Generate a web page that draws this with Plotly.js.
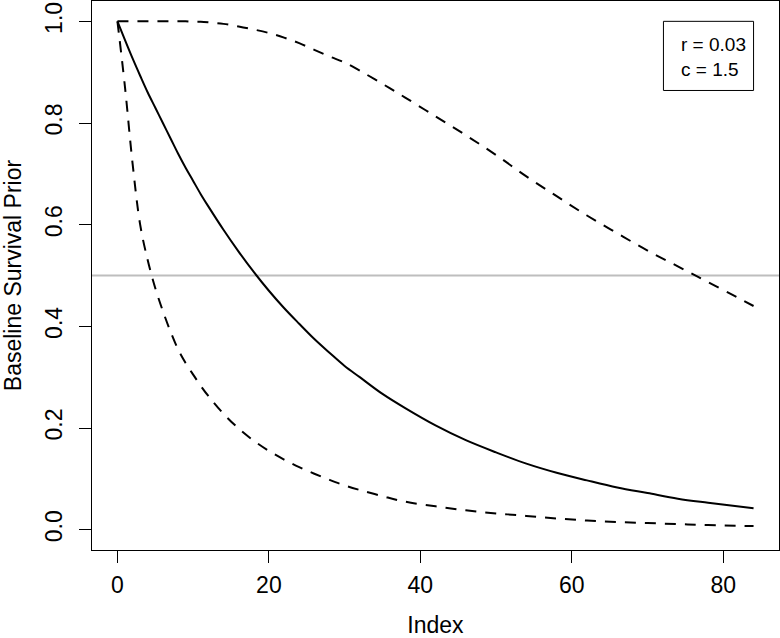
<!DOCTYPE html>
<html>
<head>
<meta charset="utf-8">
<script src="https://cdn.plot.ly/plotly-3.0.1.min.js"></script>
<style>
  body { margin: 0; background: #fff; }
  #plot { width: 780px; height: 638px; }
</style>
</head>
<body>
<div id="plot"></div>
<script>
// index values
var idx = [0, 1, 2, 3, 4, 5, 6, 7, 8, 9, 10, 11, 12, 14, 16, 18, 20, 22, 24, 26, 28, 30,
  32, 35, 38, 42, 46, 50, 54, 58, 62, 66, 70, 74, 78, 84];

// solid curve (middle)
var priorMid = [1.0, 0.963, 0.927, 0.893, 0.86, 0.83, 0.80, 0.77, 0.74, 0.712, 0.686, 0.66, 0.636, 0.59,
  0.547, 0.507, 0.47, 0.436, 0.405, 0.375, 0.348, 0.322, 0.30, 0.267, 0.239, 0.205,
  0.176, 0.152, 0.130, 0.112, 0.097, 0.083, 0.072, 0.061, 0.053, 0.042];

// dashed curve, lower
var priorLow = [1.0, 0.87, 0.72, 0.60, 0.53, 0.475, 0.43, 0.39, 0.355, 0.328, 0.305, 0.283, 0.263, 0.228,
  0.199, 0.175, 0.155, 0.138, 0.123, 0.110, 0.098, 0.087, 0.078, 0.066, 0.055, 0.046,
  0.038, 0.032, 0.027, 0.022, 0.018, 0.015, 0.013, 0.011, 0.009, 0.007];

// dashed curve, upper
var priorHigh = [1.0, 1.0, 1.0, 1.0, 1.0, 1.0, 1.0, 1.0, 1.0, 1.0, 0.999, 0.999, 0.998, 0.995,
  0.99, 0.984, 0.977, 0.968, 0.957, 0.944, 0.931, 0.919, 0.903, 0.877, 0.85, 0.813,
  0.776, 0.737, 0.695, 0.656, 0.618, 0.583, 0.549, 0.518, 0.487, 0.44];

var xTicks = [0, 20, 40, 60, 80];
var yTicks = [0, 0.2, 0.4, 0.6, 0.8, 1.0];
var legendLines = ['r = 0.03', 'c = 1.5'];

var fnt = 'Liberation Sans, Arial, Helvetica, sans-serif';

var data = [
  {x: idx, y: priorMid, type: 'scatter', mode: 'lines',
   line: {color: '#000', width: 2, shape: 'spline'}},
  {x: idx, y: priorLow, type: 'scatter', mode: 'lines',
   line: {color: '#000', width: 2, dash: '11px,9px', shape: 'spline'}},
  {x: idx, y: priorHigh, type: 'scatter', mode: 'lines',
   line: {color: '#000', width: 2, dash: '11px,9px', shape: 'spline'}}
];

var layout = {
  width: 780,
  height: 638,
  margin: {l: 92, r: 1, t: 1, b: 88},
  paper_bgcolor: '#fff',
  plot_bgcolor: '#fff',
  showlegend: false,
  font: {family: fnt, size: 23, color: '#000'},
  xaxis: {
    range: [-3.36, 87.36],
    tickvals: xTicks,
    ticks: 'outside', ticklen: 12, tickwidth: 1, tickcolor: '#000',
    showline: true, mirror: true, linecolor: '#000', linewidth: 1,
    showgrid: false, zeroline: false,
    ticklabelstandoff: 2,
    tickfont: {family: fnt, size: 23, color: '#000'},
    title: {text: 'Index', font: {family: fnt, size: 23, color: '#000'}, standoff: 23}
  },
  yaxis: {
    range: [-0.04, 1.04],
    tickvals: yTicks,
    tickformat: '.1f',
    tickangle: -90,
    ticks: 'outside', ticklen: 12, tickwidth: 1, tickcolor: '#000',
    showline: true, mirror: true, linecolor: '#000', linewidth: 1,
    showgrid: false, zeroline: false,
    ticklabelstandoff: 8,
    tickfont: {family: fnt, size: 23, color: '#000'},
    title: {text: 'Baseline Survival Prior', font: {family: fnt, size: 23, color: '#000'}, standoff: 14}
  },
  shapes: [
    {type: 'line', xref: 'paper', x0: 0, x1: 1, yref: 'y', y0: 0.5, y1: 0.5,
     line: {color: '#bebebe', width: 2}, layer: 'below'},
    {type: 'rect', xref: 'x', yref: 'y', x0: 72.1, x1: 84, y0: 0.864, y1: 1.0,
     line: {color: '#000', width: 1}}
  ],
  annotations: [
    {xref: 'x', yref: 'y', x: 74.2, y: 0.9306, xanchor: 'left', yanchor: 'middle',
     align: 'left', showarrow: false, text: legendLines.join('<br>'),
     font: {family: fnt, size: 19, color: '#000'}}
  ]
};

Plotly.newPlot('plot', data, layout, {displayModeBar: false, staticPlot: true});
</script>
</body>
</html>
